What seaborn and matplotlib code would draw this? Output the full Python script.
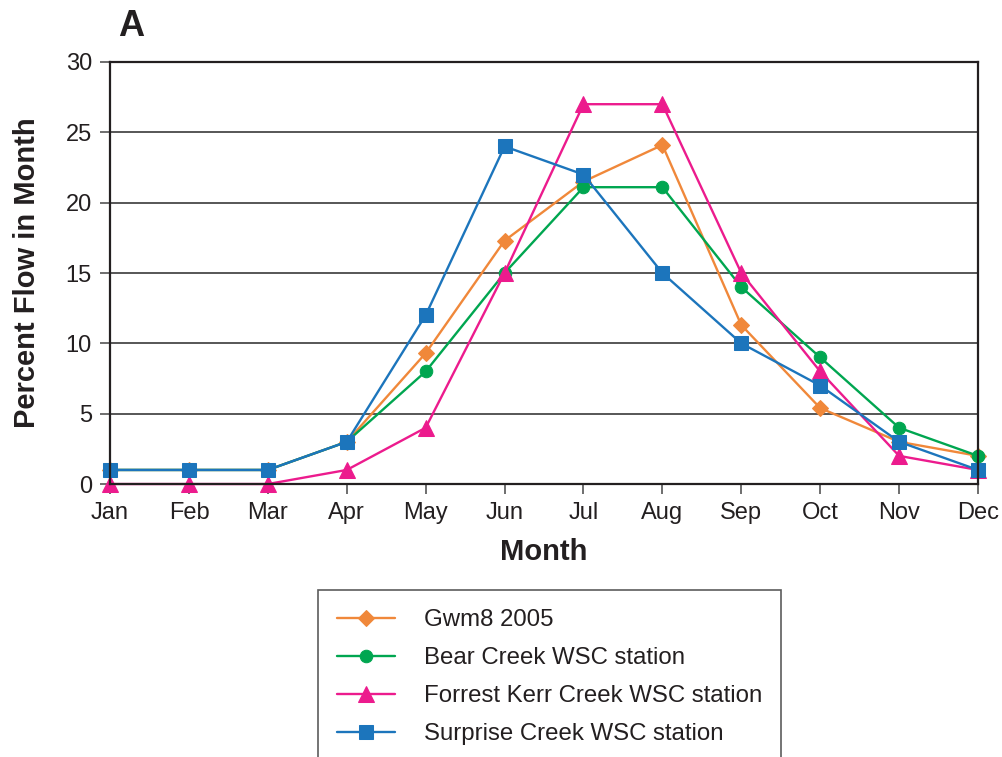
import pandas as pd
import matplotlib.pyplot as plt
import seaborn as sns

# dados
meses = ["Jan", "Feb", "Mar", "Apr", "May", "Jun", "Jul", "Aug", "Sep", "Oct", "Nov", "Dec"]
gwm8 = [1, 1, 1, 3, 9.3, 17.3, 21.5, 24.1, 11.3, 5.4, 3, 2]
bear = [1, 1, 1, 3, 8, 15, 21.1, 21.1, 14, 9, 4, 2]
forrest = [0, 0, 0, 1, 4, 15, 27, 27, 15, 8, 2, 1]
surprise = [1, 1, 1, 3, 12, 24, 22, 15, 10, 7, 3, 1]

series = ["Gwm8 2005", "Bear Creek WSC station", "Forrest Kerr Creek WSC station", "Surprise Creek WSC station"]
valores = [gwm8, bear, forrest, surprise]
cores = ['#F0883A', '#00A650', '#EC1B8D', '#1C75BC']
marcadores = ['D', 'o', '^', 's']
tamanhos = [8, 9, 11, 9.5]

sns.set_style('white')
plt.rcParams['font.family'] = ['Liberation Sans', 'DejaVu Sans']
cor_texto = '#231F20'

fig = plt.figure(figsize=(10.03, 7.57), dpi=100)
ax = fig.add_axes([0.1097, 0.3606, 0.8654, 0.5575])

for nome, vals, cor, mk, ms in zip(series, valores, cores, marcadores, tamanhos):
    df = pd.DataFrame({'mes': range(len(meses)), 'valor': vals})
    sns.lineplot(data=df, x='mes', y='valor', ax=ax, color=cor, marker=mk, markersize=ms,
                 markeredgecolor=cor, linewidth=1.7, label=nome, clip_on=False)

ax.set_xlim(0, 11)
ax.set_ylim(0, 30)
ax.set_xticks(range(len(meses)))
ax.set_xticklabels(meses)
ax.set_yticks(range(0, 31, 5))
ax.yaxis.grid(True, color='#3a3a3a', linewidth=1.2)
ax.set_axisbelow(True)
for s in ax.spines.values():
    s.set_color(cor_texto)
    s.set_linewidth(1.6)
ax.tick_params(axis='both', direction='out', length=7, width=1.2, color='#555555',
               labelsize=17, labelcolor=cor_texto, left=True, bottom=True, pad=6)

ax.set_xlabel("Month", fontsize=21, fontweight='bold', color=cor_texto, labelpad=10)
ax.set_ylabel("Percent Flow in Month", fontsize=21, fontweight='bold', color=cor_texto, labelpad=18)
fig.text(0.118, 0.988, "A", fontsize=26, fontweight='bold', color=cor_texto, va='top', ha='left')

handles, labels = ax.get_legend_handles_labels()
ax.get_legend().remove()
leg = fig.legend(handles, labels, loc='upper left', bbox_to_anchor=(0.317, 0.221),
                 fontsize=17.3, frameon=True, fancybox=False, handlelength=2.4,
                 handletextpad=1.2, labelspacing=0.67, borderpad=0.8, borderaxespad=0)
leg.get_frame().set_edgecolor('#333333')
leg.get_frame().set_linewidth(1.2)
for t in leg.get_texts():
    t.set_color(cor_texto)

plt.savefig('out.png', dpi=100)
